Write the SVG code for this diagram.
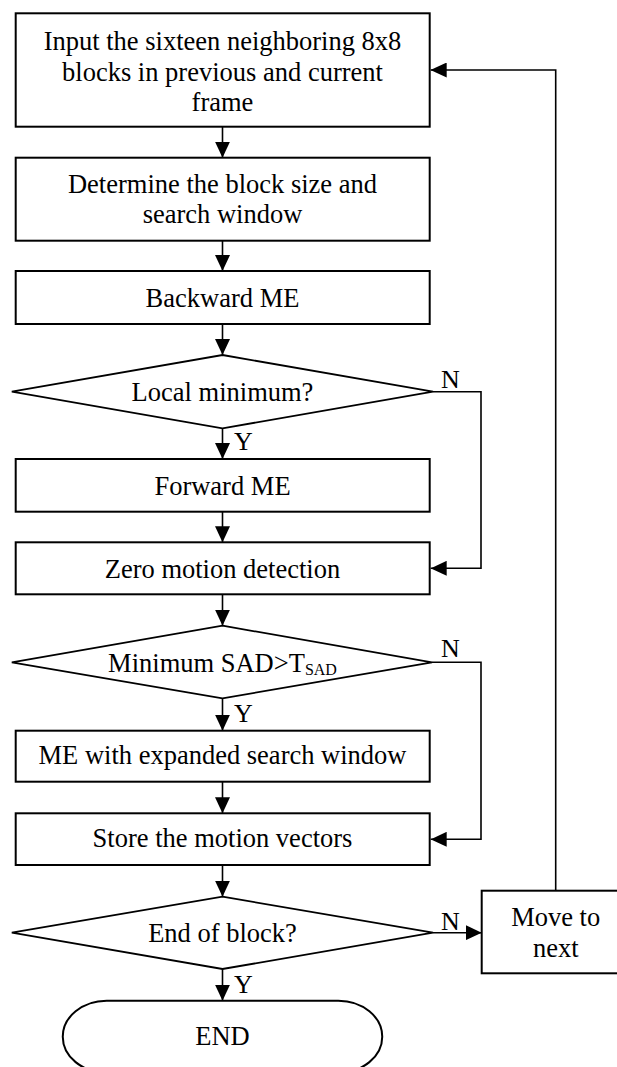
<svg xmlns="http://www.w3.org/2000/svg" width="617" height="1067" viewBox="0 0 617 1067">
<style>
.box{fill:#fff;stroke:#000;stroke-width:2}
.dia{fill:#fff;stroke:#000;stroke-width:1.8}
.t{font-family:"Liberation Serif","Times New Roman",serif;font-size:26.5px;fill:#000;text-anchor:middle}
.lbl{font-family:"Liberation Serif","Times New Roman",serif;font-size:26px;fill:#000}
.c{fill:none;stroke:#000;stroke-width:1.6}
</style>
<defs>
<marker id="ah" viewBox="0 0 16 15" refX="16" refY="7.5" markerWidth="16" markerHeight="15" markerUnits="userSpaceOnUse" orient="auto">
<path d="M0,0 L16,7.5 L0,15 z" fill="#000"/>
</marker>
</defs>
<rect width="617" height="1067" fill="#fff"/>
<g id="connectors">
<path class="c" d="M222.5,126.7 V157.7" marker-end="url(#ah)"/>
<path class="c" d="M222.5,240.7 V271" marker-end="url(#ah)"/>
<path class="c" d="M222.5,324 V355" marker-end="url(#ah)"/>
<path class="c" d="M222.5,428.3 V459" marker-end="url(#ah)"/>
<path class="c" d="M222.5,511.7 V542.3" marker-end="url(#ah)"/>
<path class="c" d="M222.5,594.3 V625.7" marker-end="url(#ah)"/>
<path class="c" d="M222.5,698.3 V730.7" marker-end="url(#ah)"/>
<path class="c" d="M222.5,781.7 V813.3" marker-end="url(#ah)"/>
<path class="c" d="M222.5,865 V896.7" marker-end="url(#ah)"/>
<path class="c" d="M222.5,969 V1000.7" marker-end="url(#ah)"/>
<path class="c" d="M433,391.7 H481 V568.3 H430.7" marker-end="url(#ah)"/>
<path class="c" d="M432,662.3 H481 V839.3 H430.7" marker-end="url(#ah)"/>
<path class="c" d="M433,932.7 H481.7" marker-end="url(#ah)"/>
<path class="c" d="M555.7,890.7 V70 H430.7" marker-end="url(#ah)"/>
<text class="lbl" x="441" y="388.3">N</text>
<text class="lbl" x="234" y="450">Y</text>
<text class="lbl" x="441" y="656.7">N</text>
<text class="lbl" x="234" y="721.7">Y</text>
<text class="lbl" x="441" y="930">N</text>
<text class="lbl" x="234" y="993.3">Y</text>
</g>
<g id="input">
<rect class="box" x="15.7" y="13.3" width="414" height="113.4"/>
<text class="t" x="222.5" y="49.5">Input the sixteen neighboring 8x8</text>
<text class="t" x="222.5" y="80.5">blocks in previous and current</text>
<text class="t" x="222.5" y="110.5">frame</text>
</g>
<g id="determine">
<rect class="box" x="15.7" y="157.7" width="414" height="83"/>
<text class="t" x="222.5" y="193">Determine the block size and</text>
<text class="t" x="222.5" y="223">search window</text>
</g>
<g id="backward">
<rect class="box" x="15.7" y="271" width="414" height="53"/>
<text class="t" x="222.5" y="306.7">Backward ME</text>
</g>
<g id="localmin">
<polygon class="dia" points="222.5,355 433,391.7 222.5,428.3 11.8,391.7"/>
<text class="t" x="222.5" y="401">Local minimum?</text>
</g>
<g id="forward">
<rect class="box" x="15.7" y="459" width="414" height="52.7"/>
<text class="t" x="222.5" y="495">Forward ME</text>
</g>
<g id="zero">
<rect class="box" x="15.7" y="542.3" width="414" height="52"/>
<text class="t" x="222.5" y="577.7">Zero motion detection</text>
</g>
<g id="minsad">
<polygon class="dia" points="222.5,625.7 432,662.3 222.5,698.3 11.8,662.3"/>
<text class="t" x="222.5" y="671.5">Minimum SAD&gt;T<tspan font-size="16px" dy="3">SAD</tspan></text>
</g>
<g id="expanded">
<rect class="box" x="15.7" y="730.7" width="414" height="51"/>
<text class="t" x="222.5" y="764">ME with expanded search window</text>
</g>
<g id="store">
<rect class="box" x="15.7" y="813.3" width="414" height="51.7"/>
<text class="t" x="222.5" y="847.3">Store the motion vectors</text>
</g>
<g id="endblock">
<polygon class="dia" points="222.5,896.7 433,932.7 222.5,969 11.8,932.7"/>
<text class="t" x="222.5" y="941.7">End of block?</text>
</g>
<g id="movenext">
<rect class="box" x="481.7" y="890.7" width="148" height="82.6"/>
<text class="t" x="555.7" y="925.7">Move to</text>
<text class="t" x="555.7" y="956.7">next</text>
</g>
<g id="end">
<path class="box" d="M106.7,1000.7 H338.3 A44,36 0 0 1 338.3,1072.7 H106.7 A44,36 0 0 1 106.7,1000.7 z"/>
<text class="t" x="222.5" y="1045">END</text>
</g>
</svg>
